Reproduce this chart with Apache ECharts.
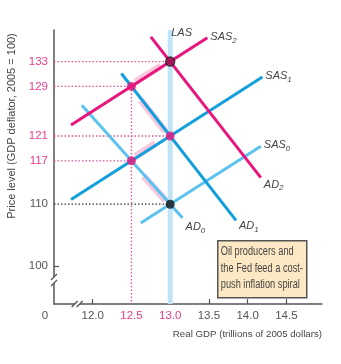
<!DOCTYPE html>
<html><head><meta charset="utf-8">
<script src="https://cdn.jsdelivr.net/npm/echarts@6/dist/echarts.min.js"></script>
<style>html,body{margin:0;padding:0;background:#fff}#c{width:341px;height:364px}</style>
</head><body><div id="c"></div>
<script>
// ---- data ----
const xTicks = [11.5, 12.0, 12.5, 13.0, 13.5, 14.0, 14.5];   // 11.5 is the origin shown as "0"
const xTickMarks = [12.0, 13.5, 14.0, 14.5];
const xPink = [12.5, 13.0];
const yTicks = [100, 110, 117, 121, 129, 133];
const yTickMarks = [100];
const yPink = [117, 121, 129, 133];
const xMin = 11.5, xMax = 14.96, yMin = 93.9, yMax = 138.1;

const LAS  = [[13.0, 93.9], [13.0, 138.1]];
const SAS0 = [[12.62, 106.96], [14.17, 119.36]];
const SAS1 = [[11.72, 110.76], [14.19, 130.52]];
const SAS2 = [[11.72, 122.76], [13.48, 136.84]];
const AD0  = [[11.86, 125.96], [13.16, 107.76]];
const AD1  = [[12.37, 131.08], [13.85, 107.40]];
const AD2  = [[12.75, 137.00], [14.17, 114.28]];

const equilibria = [[13.0, 110], [12.5, 117], [13.0, 121], [12.5, 129], [13.0, 133]];
const pinkGuides = [
  [[11.5, 133], [13.0, 133]],
  [[11.5, 129], [12.5, 129]],
  [[11.5, 121], [13.0, 121]],
  [[11.5, 117], [12.5, 117]],
  [[12.5, 129], [12.5, 93.9]]
];
const blackGuides = [[[11.5, 110], [13.0, 110]]];
const spiralArrows = [
  [[12.94, 110.6], [12.66, 114.5]],
  [[12.55, 117.7], [12.81, 119.8]],
  [[12.94, 121.7], [12.62, 126.8]],
  [[12.55, 129.7], [12.88, 132.3]]
];
const axisBreaks = [[11.806, 93.9, 0], [11.5, 97.6, 1]];
const boxText = 'Oil producers and\nthe Fed feed a cost-\npush inflation spiral';
const xTitle = 'Real GDP (trillions of 2005 dollars)';
const yTitle = 'Price level (GDP deflator, 2005 = 100)';

// ---- styles ----
const PINK = '#e8157c', BLUE = '#129fdb', LBLUE = '#5cc3ee', LASC = '#bfe4f6';
const AXC = '#555', TXT = '#454545', PINKTXT = '#ea3b8b';
const FONT = '"Liberation Sans", sans-serif';

const rich = {
  m: {fontStyle: 'italic', fontSize: 11, fontFamily: FONT, color: TXT, lineHeight: 13, verticalAlign: 'top'},
  s: {fontStyle: 'italic', fontSize: 8, fontFamily: FONT, color: TXT, lineHeight: 8, verticalAlign: 'bottom', padding: [7, 0, 0, 0]}
};
function curve(data, color, width, main, sub, offset, z) {
  return {
    type: 'line', data: data, symbol: 'none', silent: true, z: z,
    lineStyle: {color: color, width: width},
    endLabel: {show: true, distance: 3, offset: offset,
      formatter: '{m|' + main + '}' + (sub ? '{s|' + sub + '}' : ''), rich: rich}
  };
}
function guideSeries(segs, color) {
  return segs.map(s => ({type: 'line', data: s, symbol: 'none', silent: true, z: 1,
    lineStyle: {color: color, width: 1.3, type: [1.5, 2]}}));
}

const option = {
  animation: false,
  grid: {left: 54, right: 19, top: 30, bottom: 60, containLabel: false, outerBoundsMode: 'none'},
  xAxis: {
    type: 'value', min: xMin, max: xMax, interval: 0.5,
    splitLine: {show: false},
    axisLine: {lineStyle: {color: AXC, width: 1.5}},
    axisTick: {show: true, inside: true, length: 5, customValues: xTickMarks, lineStyle: {color: AXC, width: 1.2}},
    axisLabel: {customValues: xTicks, margin: 6, showMinLabel: true,
      formatter: v => Math.abs(v - xMin) < 1e-6 ? '{z|0}' : (xPink.some(p => Math.abs(p - v) < 1e-6) ? '{p|' + v.toFixed(1) + '}' : '{g|' + v.toFixed(1) + '}'),
      rich: {
        p: {color: PINKTXT, fontSize: 11.5, fontFamily: FONT},
        g: {color: '#555', fontSize: 11.5, fontFamily: FONT},
        z: {color: '#555', fontSize: 11.5, fontFamily: FONT, padding: [0, 18, 0, 0]}
      }},
    name: xTitle, nameLocation: 'end', nameGap: 0,
    nameTextStyle: {align: 'right', verticalAlign: 'top', padding: [25, 0, 0, 0], fontSize: 9.7, fontFamily: FONT, color: TXT}
  },
  yAxis: {
    type: 'value', min: yMin, max: yMax,
    splitLine: {show: false},
    axisLine: {lineStyle: {color: AXC, width: 1.5}},
    axisTick: {show: true, inside: true, length: 5, customValues: yTickMarks, lineStyle: {color: AXC, width: 1.2}},
    axisLabel: {customValues: yTicks, margin: 6,
      formatter: v => yPink.includes(Math.round(v)) ? '{p|' + v + '}' : '{g|' + v + '}',
      rich: {
        p: {color: PINKTXT, fontSize: 11.5, fontFamily: FONT},
        g: {color: '#555', fontSize: 11.5, fontFamily: FONT}
      }},
    name: yTitle, nameLocation: 'middle', nameGap: 27, nameRotate: 90,
    nameTextStyle: {fontSize: 11, fontFamily: FONT, color: TXT, padding: [0, 0, 0, 82]}
  },
  graphic: [{
    type: 'group', left: 217, top: 240, z: 100,
    children: [
      {type: 'rect', shape: {x: 0, y: 0, width: 89, height: 57}, style: {fill: '#fde8c4', stroke: '#555', lineWidth: 1.5}},
      {type: 'text', x: 3, y: 3, scaleX: 0.77, style: {text: boxText, font: '12px ' + FONT, fill: '#444', lineHeight: 16.5}}
    ]
  }],
  series: [
    {type: 'line', data: [], silent: true, z: 1,
      markLine: {silent: true, z: 1, symbol: ['none', 'arrow'], symbolSize: [0, 12], label: {show: false},
        lineStyle: {color: 'rgba(243,165,200,0.6)', width: 7, type: 'solid'},
        data: spiralArrows.map(a => [{coord: a[0]}, {coord: a[1]}])}},
    ...guideSeries(pinkGuides, '#ee4d98'),
    ...guideSeries(blackGuides, '#333'),
    curve(LAS, LASC, 5, 'LAS', '', [-2, 4], 2),
    curve(SAS0, LBLUE, 3, 'SAS', '0', [0, 0], 3),
    curve(AD0, LBLUE, 3, 'AD', '0', [0, 10], 3),
    curve(SAS1, BLUE, 3, 'SAS', '1', [0, 0], 4),
    curve(AD1, BLUE, 3, 'AD', '1', [0, 7], 4),
    curve(SAS2, PINK, 3, 'SAS', '2', [0, 0], 5),
    curve(AD2, PINK, 3, 'AD', '2', [0, 8], 5),
    {type: 'scatter', silent: true, z: 10, symbolSize: 9,
      data: equilibria.map((p, i) => ({value: p,
        itemStyle: i === 0 ? {color: '#111'} : (i === equilibria.length - 1 ? {color: '#9a0f4e', borderColor: '#222', borderWidth: 1.5} : {color: PINK})}))},
    {type: 'custom', silent: true, z: 20, data: axisBreaks,
      renderItem: function (params, api) {
        const p = api.coord([api.value(0), api.value(1)]);
        const cx = p[0], cy = p[1];
        let l1, l2;
        if (api.value(2) === 0) {
          l1 = [[cx - 6, cy + 3], [cx, cy - 3]]; l2 = [[cx - 1, cy + 3], [cx + 5, cy - 3]];
        } else {
          l1 = [[cx - 3, cy - 1], [cx + 3, cy - 7]]; l2 = [[cx - 3, cy + 5], [cx + 3, cy - 1]];
        }
        return {type: 'group', children: [
          {type: 'polygon', shape: {points: [l1[0], l1[1], l2[1], l2[0]]}, style: {fill: '#fff'}},
          {type: 'line', shape: {x1: l1[0][0], y1: l1[0][1], x2: l1[1][0], y2: l1[1][1]}, style: {stroke: AXC, lineWidth: 1.3}},
          {type: 'line', shape: {x1: l2[0][0], y1: l2[0][1], x2: l2[1][0], y2: l2[1][1]}, style: {stroke: AXC, lineWidth: 1.3}}
        ]};
      }}
  ]
};
const chart = echarts.init(document.getElementById('c'), null, {renderer: 'canvas'});
chart.setOption(option);
</script></body></html>
